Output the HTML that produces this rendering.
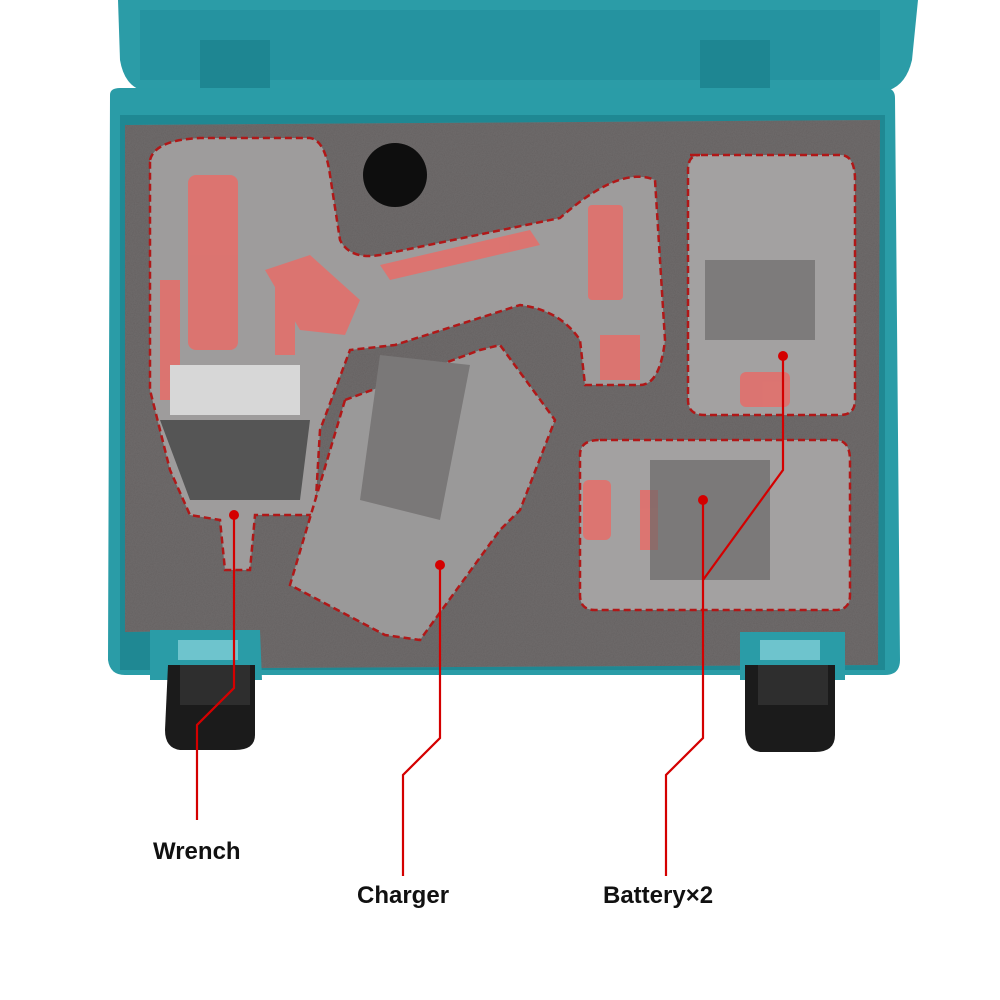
<!DOCTYPE html>
<html><head><meta charset="utf-8"><style>
html,body{margin:0;padding:0;background:#fff;width:1000px;height:1000px;overflow:hidden}
text{font-family:"Liberation Sans",sans-serif;font-weight:bold;font-size:24px;fill:#111}
</style></head><body>
<svg width="1000" height="1000" viewBox="0 0 1000 1000" xmlns="http://www.w3.org/2000/svg">
<defs>
<filter id="n" x="0" y="0" width="100%" height="100%">
<feTurbulence type="fractalNoise" baseFrequency="0.9" numOctaves="2" result="t"/>
<feColorMatrix type="saturate" values="0"/>
<feComponentTransfer><feFuncA type="table" tableValues="0 0.35"/></feComponentTransfer>
<feComposite in2="SourceGraphic" operator="in"/>
<feBlend in2="SourceGraphic" mode="multiply"/>
</filter>
</defs>
<!-- lid -->
<path d="M118 0 H918 L912 60 Q905 90 880 92 H150 Q125 90 120 60 Z" fill="#2b9ca7"/>
<rect x="140" y="10" width="740" height="70" fill="#2593a0"/>
<rect x="200" y="40" width="70" height="80" fill="#1e8692"/>
<rect x="700" y="40" width="70" height="80" fill="#1e8692"/>
<!-- case body -->
<path d="M110 95 Q110 88 120 88 H885 Q895 88 895 98 L900 660 Q900 675 885 675 H125 Q110 675 108 660 Z" fill="#2a9ca7"/>
<rect x="120" y="115" width="765" height="555" fill="#1f8893"/>
<!-- foam -->
<path d="M125 125 L880 120 L878 665 L255 668 L255 630 L125 632 Z" fill="#6f6b6b" filter="url(#n)"/>
<circle cx="395" cy="175" r="32" fill="#0e0e0e"/>
<!-- wrench -->
<g stroke="#b01818" stroke-width="2.5" stroke-dasharray="7 4">
<path d="M150 160 Q155 140 200 138 H310 Q325 140 330 175 L340 240 Q350 260 380 255 L560 218 Q620 165 655 180 L665 340 Q660 385 640 385 L585 385 L580 340 Q560 310 520 305 L395 345 L350 350 L320 430 L315 515 H255 L250 570 H225 L220 520 L190 515 L170 470 L150 390 Z" fill="#9e9c9c"/>
<path d="M345 400 L480 350 L500 345 L555 420 L520 510 L500 530 L420 640 L385 635 L290 585 Z" fill="#9a9999"/>
<path d="M690 155 H840 Q855 155 855 180 V400 Q855 415 840 415 H705 Q688 415 688 400 V170 Q688 155 700 155 Z" fill="#a3a1a1"/>
<path d="M600 440 H835 Q850 440 850 460 V595 Q850 610 835 610 H595 Q580 610 580 595 V455 Q580 440 600 440 Z" fill="#a3a1a1"/>
</g>
<!-- pink details -->
<g fill="#e2706c" opacity="0.9">
<rect x="188" y="175" width="50" height="175" rx="8"/>
<path d="M265 270 L310 255 L360 300 L345 335 L300 330 Z"/>
<path d="M380 265 L530 230 L540 245 L390 280 Z"/>
<rect x="588" y="205" width="35" height="95" rx="4"/>
<rect x="600" y="335" width="40" height="45"/>
<rect x="160" y="280" width="20" height="120"/>
<rect x="275" y="285" width="20" height="70"/>
<rect x="740" y="372" width="50" height="35" rx="6"/>
<rect x="738" y="325" width="72" height="10"/>
<rect x="583" y="480" width="28" height="60" rx="6"/>
<rect x="640" y="490" width="18" height="60"/>
</g>
<rect x="170" y="365" width="130" height="50" fill="#d7d7d7"/>
<path d="M160 420 H310 L300 500 H190 Z" fill="#555"/>
<path d="M380 355 L470 365 L440 520 L360 500 Z" fill="#7a7878"/>
<rect x="705" y="260" width="110" height="80" fill="#7d7b7b"/>
<rect x="650" y="460" width="120" height="120" fill="#6a6868" opacity="0.7"/>
<!-- latches -->
<g>
<path d="M150 630 H260 L262 680 H150 Z" fill="#2a9ca7"/>
<rect x="178" y="640" width="60" height="20" fill="#6ec4cd"/>
<path d="M168 665 H255 V735 Q255 750 235 750 H180 Q165 748 165 730 Z" fill="#1b1b1b"/>
<rect x="180" y="665" width="70" height="40" fill="#2e2e2e"/>
<path d="M740 632 H845 V680 H740 Z" fill="#2a9ca7"/>
<rect x="760" y="640" width="60" height="20" fill="#6ec4cd"/>
<path d="M745 665 H835 V735 Q835 752 815 752 H760 Q745 750 745 730 Z" fill="#1b1b1b"/>
<rect x="758" y="665" width="70" height="40" fill="#2e2e2e"/>
</g>
<!-- leader lines -->
<g stroke="#d40000" stroke-width="2.2" fill="none">
<polyline points="234,515 234,688 197,725 197,820"/>
<polyline points="440,565 440,738 403,775 403,876"/>
<polyline points="703,500 703,738 666,775 666,876"/>
<polyline points="783,356 783,470 703,580"/>
</g>
<g fill="#d40000">
<circle cx="234" cy="515" r="5"/><circle cx="440" cy="565" r="5"/>
<circle cx="703" cy="500" r="5"/><circle cx="783" cy="356" r="5"/>
</g>
<text x="153" y="859">Wrench</text>
<text x="357" y="903">Charger</text>
<text x="603" y="903">Battery×2</text>
</svg>
</body></html>
